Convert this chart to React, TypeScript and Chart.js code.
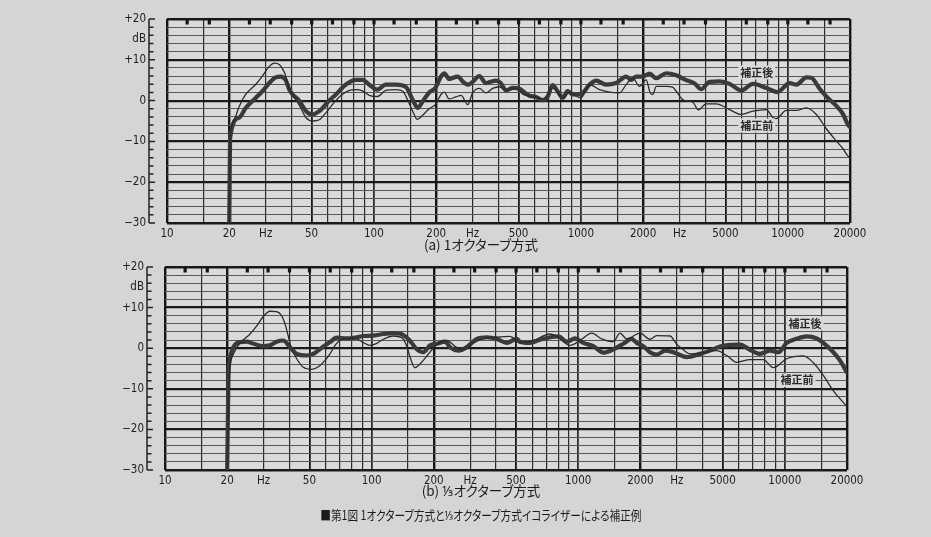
import { useEffect, useRef } from 'react';
import { Chart, registerables } from 'chart.js';

Chart.register(...registerables);

// ---------- axes / ticks ----------
const FREQ_MIN = 10;
const FREQ_MAX = 20000;
const DB_MIN = -30;
const DB_MAX = 20;

const X_GRID = [10, 15, 20, 30, 40, 50, 60, 70, 80, 90, 100, 150, 200, 300, 400, 500, 600, 700, 800, 900,
  1000, 1500, 2000, 3000, 4000, 5000, 6000, 7000, 8000, 9000, 10000, 15000, 20000];
const X_LABELS: Record<number, string> = {
  10: '10', 20: '20', 30: 'Hz', 50: '50', 100: '100', 200: '200', 300: 'Hz', 500: '500',
  1000: '1000', 2000: '2000', 3000: 'Hz', 5000: '5000', 10000: '10000', 20000: '20000',
};
const Y_LABELS: Record<number, string> = {
  20: '+20', 15: 'dB', 10: '+10', 0: '0', [-10]: '−10', [-20]: '−20', [-30]: '−30',
};
const Y_TICKS = Array.from({ length: DB_MAX - DB_MIN + 1 }, (_, i) => DB_MIN + i);
// 1/3-octave band marks hanging from the top frame
const BAND_MARKS = [12.5, 16, 25, 31.5, 40, 50, 63, 80, 100, 125, 160, 250, 315, 400, 500, 630, 800,
  1000, 1250, 1600, 2500, 3150, 4000, 6300, 8000, 10000, 12500, 16000];

// ---------- data: [Hz, dB] ----------
const A_BEFORE: [number, number][] = [
  [20, -30], [20.2, -9.5], [21, -5], [22.3, -1.5], [24, 1.5], [26.9, 4], [28.9, 6], [31, 8.2], [33, 9.2],
  [35, 8.8], [37, 6.8], [39, 3], [41, 1], [44, -1.5], [47, -4.2], [50.5, -5], [54.5, -4.7], [58.6, -3],
  [63, -1], [69, 1.2], [75, 2.4], [82, 2.7], [88, 2.4], [95, 1.3], [104, 1.0], [114, 2.5], [128, 2.7],
  [138, 2.3], [146, 0], [154, -2.6], [162, -4.6], [172, -3.6], [185, -2], [198, -1], [211, 1.5],
  [219, 2.1], [231, 0.4], [249, 0.9], [264, 1.3], [284, -1], [300, 1.9], [323, 3.0], [348, 1.9],
  [375, 3.0], [404, 3.4], [435, 2.6], [486, 3.0], [524, 1.6], [564, 1.1], [608, 0.9], [667, 0.2],
  [731, 3.1], [773, 2.0], [818, 0.5], [864, 1.8], [898, 2.1], [940, 1.2], [1003, 0.7], [1101, 3.9],
  [1230, 2.7], [1375, 2.1], [1538, 1.9], [1656, 3.9], [1783, 5.5], [1922, 3.5], [2071, 5.1], [2160, 2.0],
  [2230, 1.5], [2314, 3.5], [2588, 3.5], [2780, 3.3], [2893, 2.3], [3114, 0.2], [3479, -0.4], [3700, -2.3],
  [4036, -0.8], [4510, -0.8], [5237, -2.2], [5966, -3.4], [6791, -2.6], [7876, -2.2], [8500, -4.2],
  [8805, -4.4], [9844, -2.4], [11010, -2.4], [12310, -1.8], [13750, -3.4], [15370, -6.9], [17180, -9.9],
  [18500, -11.8], [19550, -13.6], [20000, -14],
];
const A_AFTER: [number, number][] = [
  [20, -30], [20.2, -9], [22.3, -4.2], [24, -1.8], [26.9, 0.7], [28.9, 2.3], [31.2, 4.3], [33.5, 5.7],
  [35.5, 5.9], [37.5, 5.0], [39, 2.7], [40.5, 1.5], [43.5, 0], [47, -2.6], [50.5, -3.4], [54.4, -2.6],
  [60.8, 0], [65.5, 1.5], [73, 3.9], [82, 5.1], [88, 5.1], [95, 3.9], [104, 2.7], [114, 3.9], [128, 3.9],
  [143, 3.3], [154, 0.2], [163, -1.8], [172, -0.2], [185, 2.0], [198, 3.1], [211, 5.9], [219, 6.7],
  [231, 5.3], [254, 5.9], [270, 4.6], [285, 3.9], [300, 4.6], [323, 6.0], [348, 4.3], [365, 4.6],
  [389, 4.9], [410, 4.3], [435, 2.5], [470, 3.1], [505, 2.9], [540, 1.8], [564, 1.2], [608, 0.9],
  [655, 0.1], [692, 1.0], [731, 3.8], [773, 2.3], [818, 0.7], [864, 2.3], [914, 1.5], [1003, 1.6],
  [1101, 3.9], [1186, 4.9], [1326, 3.9], [1482, 4.3], [1656, 5.9], [1751, 5.1], [1852, 5.9], [2000, 5.9],
  [2149, 6.6], [2314, 5.5], [2588, 6.7], [2893, 6.2], [3231, 5.0], [3550, 4.2], [3819, 2.8], [4188, 4.6],
  [4688, 4.7], [5237, 4.1], [5966, 2.5], [6791, 4.1], [7876, 3.1], [8900, 2.1], [10210, 4.3], [11010, 3.9],
  [12310, 5.7], [13010, 5.6], [14270, 2.9], [15370, 1.0], [17180, -1.3], [18500, -3.3], [19550, -5.9],
  [20000, -6.5],
];
const B_BEFORE: [number, number][] = [
  [20, -30], [20.4, -8], [21.4, -1.5], [23.1, 1.3], [25.8, 3.5], [27.8, 5.5], [29.9, 7.8], [32.2, 9.1],
  [34.7, 9.0], [36.7, 8.0], [38.1, 6.0], [39.5, 3.0], [40.8, 0.2], [43.4, -2.6], [46.7, -4.7], [51.3, -5.2],
  [55.5, -4.5], [59.5, -3.0], [62.9, -1.4], [66.5, 0.7], [70.3, 1.9], [75.8, 2.5], [84.8, 2.3], [91.2, 1.4],
  [98, 0.7], [106, 1.2], [114, 2.2], [127, 3.0], [140, 2.6], [148, 0.5], [153, -2], [162, -4.8],
  [175, -3.4], [188, -1.5], [207, 0.9], [231, 1.9], [258, 0.2], [278, -0.3], [311, 1.3], [347, 2.3],
  [403, 2.7], [467, 2.9], [523, 1.3], [606, 1.9], [731, 3.5], [802, 2.7], [913, 0.7], [1021, 1.9],
  [1162, 3.7], [1299, 2.3], [1479, 1.6], [1593, 3.7], [1717, 2.3], [1992, 3.7], [2226, 2.2], [2399, 3.1],
  [2783, 3.0], [2996, 1.0], [3228, -0.4], [3479, -1.4], [3900, -1.2], [4681, -0.6], [5233, -1.8],
  [5851, -3.5], [6785, -2.8], [7869, -2.8], [8803, -4.8], [10210, -2.6], [12300, -1.9], [13750, -3.6],
  [15360, -6.7], [17180, -10.5], [19940, -14.4], [20000, -14.5],
];
const B_AFTER: [number, number][] = [
  [20, -30], [20.3, -6], [20.6, -2.6], [21.4, 0.2], [23.1, 1.5], [24.9, 1.6], [26.8, 1.1], [29.9, 0.5],
  [32.2, 0.7], [34.7, 1.6], [37.4, 1.9], [40.3, 0.2], [43.4, -1.4], [48.5, -1.8], [52.2, -1.4], [56.3, -0.2],
  [62.9, 1.5], [67.8, 2.6], [75.8, 2.4], [84.8, 2.7], [91.2, 3.0], [102, 3.1], [114, 3.5], [127, 3.7],
  [142, 3.3], [153, 1.9], [165, -0.2], [178, -1.0], [192, 0.7], [207, 1.1], [227, 1.6], [240, 0.2],
  [263, -0.6], [288, 0.2], [323, 2.3], [361, 2.7], [403, 2.3], [451, 1.3], [504, 2.3], [523, 1.6],
  [584, 1.3], [653, 2.1], [731, 2.7], [802, 2.9], [880, 1.6], [966, 2.4], [1059, 1.3], [1184, 0.5],
  [1324, -1.1], [1479, -0.3], [1653, 1.1], [1815, 2.3], [1920, 1.3], [2067, 0.5], [2226, -1.0],
  [2399, -1.6], [2633, -0.6], [2887, -1.0], [3351, -2.2], [3888, -1.4], [4344, -0.6], [4858, 0.4],
  [5431, 0.8], [6072, 0.9], [6785, -0.4], [7582, -1.4], [8482, -0.6], [9314, -1.0], [10210, 1.3],
  [11420, 2.3], [12770, 2.9], [14270, 2.4], [15360, 1.3], [17180, -1.0], [18480, -3.0], [20000, -6.0],
];

const SERIES_AFTER = '補正後';
const SERIES_BEFORE = '補正前';
// curve labels anchored in data units [Hz, dB]
const A_NOTES: [string, number, number][] = [[SERIES_AFTER, 7080, 6.9], [SERIES_BEFORE, 7080, -6.1]];
const B_NOTES: [string, number, number][] = [[SERIES_AFTER, 12530, 6.1], [SERIES_BEFORE, 11450, -7.9]];

const TITLE_A = '(a) 1オクターブ方式';
const TITLE_B = '(b) ⅓オクターブ方式';
const CAPTION = '■第1図 1オクターブ方式と⅓オクターブ方式イコライザーによる補正例';

// ---------- styles ----------
const PAGE_BG = '#d3d6d4';
const PLOT_BG = '#d8dbd9';
const INK = '#1c1c1c';
const NUM_FONT = "'Liberation Sans Narrow', 'DejaVu Sans Condensed', 'Liberation Sans', sans-serif";
const JP_FONT = "'Noto Sans CJK JP', 'Noto Sans', sans-serif";

function xWidth(v: number) {
  if (v === FREQ_MIN || v === FREQ_MAX) return 2.4;
  if (v === 20 || v === 200 || v === 2000) return 2.4;
  if ([50, 100, 500, 1000, 5000, 10000].includes(v)) return 1.8;
  return 1.2;
}
function xColor(v: number) {
  if ([10, 20, 200, 2000, 20000, 50, 500, 5000].includes(v)) return '#161616';
  return '#2c2c2c';
}
function yWidth(v: number) {
  if (v === DB_MIN || v === DB_MAX) return 2.4;
  if (v % 10 === 0) return 2.2;
  if (v % 2 === 0) return 1;
  return 0;
}
function yColor(v: number) {
  if (v % 10 === 0) return '#1a1a1a';
  if (v % 2 === 0) return '#555856';
  return 'rgba(0,0,0,0)';
}

const decor = {
  id: 'decor',
  beforeDraw(chart: any) {
    const { ctx, chartArea: a } = chart;
    ctx.save();
    ctx.fillStyle = PLOT_BG;
    ctx.fillRect(a.left, a.top, a.right - a.left, a.bottom - a.top);
    ctx.restore();
  },
  afterDatasetsDraw(chart: any, _args: any, opts: any) {
    const { ctx } = chart;
    const xs = chart.scales.x;
    const ys = chart.scales.y;
    ctx.save();
    ctx.font = `bold 11px ${JP_FONT}`;
    ctx.textAlign = 'center';
    ctx.textBaseline = 'middle';
    for (const [t, f, db] of opts.notes as [string, number, number][]) {
      const x = xs.getPixelForValue(f);
      const y = ys.getPixelForValue(db);
      const w = ctx.measureText(t).width;
      ctx.fillStyle = PLOT_BG;
      ctx.fillRect(x - w / 2 - 2, y - 7, w + 4, 14);
      ctx.fillStyle = '#2a2a2a';
      ctx.fillText(t, x, y);
    }
    ctx.restore();
  },
  afterDraw(chart: any) {
    const { ctx, chartArea: a } = chart;
    const xs = chart.scales.x;
    const ys = chart.scales.y;
    ctx.save();
    // left ruler
    const x0 = a.left - 18;
    ctx.strokeStyle = '#222';
    ctx.lineWidth = 1.5;
    ctx.beginPath();
    ctx.moveTo(x0, ys.getPixelForValue(DB_MAX));
    ctx.lineTo(x0, ys.getPixelForValue(DB_MIN));
    for (const v of Y_TICKS) {
      if (v % 2 !== 0) continue;
      const y = ys.getPixelForValue(v);
      ctx.moveTo(x0, y);
      ctx.lineTo(x0 + (v % 10 === 0 ? 6 : 4.5), y);
    }
    ctx.stroke();
    // band marks
    ctx.fillStyle = '#161616';
    for (const f of BAND_MARKS) {
      const x = xs.getPixelForValue(f);
      ctx.fillRect(x - 1.5, a.top, 3.2, 5.5);
    }
    ctx.restore();
  },
};

type Layout = { top: number; height: number; left: number; right: number; padTop: number; xH: number };

function makeConfig(before: [number, number][], after: [number, number][], notes: [string, number, number][], L: Layout): any {
  return {
    type: 'line',
    data: {
      datasets: [
        {
          label: SERIES_BEFORE,
          data: before.map(([x, y]) => ({ x, y })),
          borderColor: '#2b2b2b',
          borderWidth: 1.3,
          pointRadius: 0,
          cubicInterpolationMode: 'monotone',
          order: 0,
        },
        {
          label: SERIES_AFTER,
          data: after.map(([x, y]) => ({ x, y })),
          borderColor: '#393a3a',
          borderWidth: 4.2,
          pointRadius: 0,
          cubicInterpolationMode: 'monotone',
          borderCapStyle: 'round',
          borderJoinStyle: 'round',
          order: 1,
        },
      ],
    },
    options: {
      responsive: false,
      animation: false,
      events: [],
      layout: { autoPadding: false, padding: { left: 0, top: L.padTop, right: 931 - L.right, bottom: 0 } },
      plugins: {
        legend: { display: false },
        tooltip: { enabled: false },
        decor: { notes },
      },
      scales: {
        x: {
          type: 'logarithmic',
          min: FREQ_MIN,
          max: FREQ_MAX,
          afterBuildTicks: (s: any) => { s.ticks = X_GRID.map((v) => ({ value: v })); },
          afterFit: (s: any) => { s.height = L.xH; },
          border: { display: false },
          grid: {
            drawTicks: false,
            color: (c: any) => (c.tick ? xColor(c.tick.value) : '#333'),
            lineWidth: (c: any) => (c.tick ? xWidth(c.tick.value) : 1),
          },
          ticks: {
            autoSkip: false,
            maxRotation: 0,
            minRotation: 0,
            padding: 4,
            color: INK,
            font: { family: NUM_FONT, size: 11.5 },
            callback: (v: any) => X_LABELS[Number(v)] ?? '',
          },
        },
        y: {
          type: 'linear',
          min: DB_MIN,
          max: DB_MAX,
          afterBuildTicks: (s: any) => { s.ticks = Y_TICKS.map((v) => ({ value: v })); },
          afterFit: (s: any) => { s.width = L.left; },
          border: { display: false },
          grid: {
            drawTicks: true,
            tickLength: 20,
            tickColor: 'rgba(0,0,0,0)',
            color: (c: any) => (c.tick ? yColor(c.tick.value) : '#555'),
            lineWidth: (c: any) => (c.tick ? yWidth(c.tick.value) : 1),
          },
          ticks: {
            autoSkip: false,
            padding: 1,
            color: INK,
            font: { family: NUM_FONT, size: 11.5 },
            callback: (v: any) => Y_LABELS[Number(v)] ?? '',
          },
        },
      },
    },
    plugins: [decor],
  };
}

function FreqChart(props: { before: [number, number][]; after: [number, number][]; notes: [string, number, number][]; L: Layout }) {
  const ref = useRef<HTMLCanvasElement>(null);
  useEffect(() => {
    const chart = new Chart(ref.current as HTMLCanvasElement, makeConfig(props.before, props.after, props.notes, props.L));
    return () => chart.destroy();
  }, []);
  return (
    <canvas
      ref={ref}
      width={931}
      height={props.L.height}
      style={{ position: 'absolute', left: 0, top: props.L.top, width: 931, height: props.L.height }}
    />
  );
}

const LAYOUT_A: Layout = { top: 0, height: 240, left: 167, right: 850, padTop: 19, xH: 17 };
const LAYOUT_B: Layout = { top: 250, height: 240, left: 165, right: 847, padTop: 17, xH: 20 };

export default function App() {
  const textStyle = (top: number, size: number): any => ({
    position: 'absolute', left: 181, top, width: 600, textAlign: 'center',
    fontFamily: JP_FONT, fontSize: size, lineHeight: `${size + 2}px`, color: INK, whiteSpace: 'nowrap',
    fontFeatureSettings: '"palt"',
  });
  return (
    <div style={{ position: 'fixed', left: 0, top: 0, width: 931, height: 537, background: PAGE_BG, overflow: 'hidden' }}>
      <FreqChart before={A_BEFORE} after={A_AFTER} notes={A_NOTES} L={LAYOUT_A} />
      <FreqChart before={B_BEFORE} after={B_AFTER} notes={B_NOTES} L={LAYOUT_B} />
      <div style={textStyle(237, 13.5)}>{TITLE_A}</div>
      <div style={textStyle(483, 13.5)}>{TITLE_B}</div>
      <div style={textStyle(507, 13)}>
        <span style={{ display: 'inline-block', transform: 'scaleX(0.82)' }}>{CAPTION}</span>
      </div>
    </div>
  );
}
